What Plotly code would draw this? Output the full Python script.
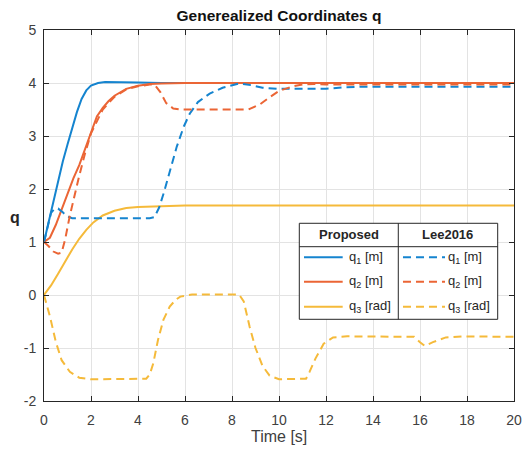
import plotly.graph_objects as go

# Proposed controller
t_q1p = [0, 0.2, 0.4, 0.6, 0.8, 1.0, 1.2, 1.4, 1.6, 1.8, 2.0, 2.3, 2.6, 3.0, 3.5, 4.0, 5.0, 6.0, 20]
q1p = [1.0, 1.38, 1.78, 2.16, 2.52, 2.84, 3.15, 3.45, 3.7, 3.86, 3.95, 4.0, 4.02, 4.02, 4.02, 4.01, 4.0, 4.0, 4.0]

t_q2p = [0, 0.25, 0.5, 0.75, 1.0, 1.25, 1.5, 1.75, 2.0, 2.25, 2.5, 2.75, 3.0, 3.5, 4.0, 4.5, 5.0, 6.0, 20]
q2p = [1.0, 1.08, 1.32, 1.62, 1.93, 2.2, 2.45, 2.75, 3.08, 3.37, 3.53, 3.66, 3.76, 3.89, 3.95, 3.98, 3.99, 4.0, 4.0]

t_q3p = [0, 0.3, 0.6, 0.9, 1.2, 1.5, 1.8, 2.1, 2.5, 3.0, 3.5, 4.0, 5.0, 6.0, 8.0, 20]
q3p = [0, 0.18, 0.4, 0.63, 0.86, 1.06, 1.23, 1.37, 1.5, 1.59, 1.64, 1.66, 1.68, 1.69, 1.69, 1.69]

# Lee2016
t_q1l = [0, 0.15, 0.3, 0.45, 0.6, 0.8, 1.0, 1.2, 4.5, 4.7, 4.9, 5.1, 5.35, 5.65, 5.95, 6.2, 6.55,
         7.05, 7.6, 8.3, 8.8, 9.3, 10.0, 12.0, 12.8, 13.5, 20]
q1l = [1.0, 1.3, 1.55, 1.63, 1.63, 1.56, 1.48, 1.45, 1.45, 1.47, 1.65, 1.93, 2.35, 2.8, 3.18, 3.42, 3.64,
       3.8, 3.91, 3.99, 3.96, 3.91, 3.89, 3.89, 3.92, 3.93, 3.93]

t_q2l = [0, 0.2, 0.4, 0.6, 0.75, 0.9, 1.1, 1.3, 1.5, 1.75, 2.0, 2.5, 3.0, 3.5, 4.0, 4.5, 4.7, 4.95,
         5.2, 5.5, 5.8, 8.7, 9.2, 9.6, 10.0, 10.6, 11.0, 11.5, 12, 20]
q2l = [1.0, 0.92, 0.82, 0.78, 0.8, 1.05, 1.5, 1.9, 2.25, 2.68, 3.05, 3.5, 3.74, 3.88, 3.94, 3.97, 3.97, 3.83,
       3.62, 3.52, 3.5, 3.5, 3.6, 3.73, 3.85, 3.94, 3.97, 3.98, 3.97, 3.97]

t_q3l = [0, 0.25, 0.5, 0.75, 1.1, 1.5, 2.0, 4.35, 4.5, 4.65, 4.85, 5.08, 5.35, 5.6, 5.8, 6.3, 8.3, 8.5,
         8.75, 9.0, 9.3, 9.6, 10.0, 11.15, 11.3, 11.55, 11.9, 12.3, 12.9, 15.75, 16.0, 16.2, 16.55,
         17.1, 17.8, 20]
q3l = [0, -0.4, -0.88, -1.23, -1.45, -1.56, -1.59, -1.58, -1.5, -1.29, -0.85, -0.47, -0.22, -0.09, -0.03,
       0.01, 0.01, -0.12, -0.6, -1.0, -1.34, -1.52, -1.59, -1.58, -1.45, -1.2, -0.92, -0.8, -0.78, -0.79,
       -0.89, -0.96, -0.89, -0.8, -0.78, -0.79]

x_ticks = [0, 2, 4, 6, 8, 10, 12, 14, 16, 18, 20]
y_ticks = [-2, -1, 0, 1, 2, 3, 4, 5]
y_ticktext = ["-2", "-1", "0", "1", "2", "3", "4", "5"]

labels = ["q<sub>1</sub> [m]", "q<sub>2</sub> [m]", "q<sub>3</sub> [rad]"]
colors = ["#1584CF", "#EB6535", "#F5BA3A"]
dash_style = "8px,5px"
font = "Liberation Sans, Arial, sans-serif"
txt = "#262626"

fig = go.Figure()
proposed = [(t_q1p, q1p), (t_q2p, q2p), (t_q3p, q3p)]
lee = [(t_q1l, q1l), (t_q2l, q2l), (t_q3l, q3l)]
for i in range(3):
    fig.add_trace(go.Scatter(x=proposed[i][0], y=proposed[i][1], mode="lines",
                             line=dict(color=colors[i], width=2), showlegend=False))
for i in range(3):
    fig.add_trace(go.Scatter(x=lee[i][0], y=lee[i][1], mode="lines",
                             line=dict(color=colors[i], width=2, dash=dash_style), showlegend=False))

axis_common = dict(showline=True, linecolor=txt, linewidth=1, mirror="ticks",
                   ticks="inside", ticklen=5, tickcolor=txt, showgrid=True,
                   gridcolor="#e3e3e3", gridwidth=1, zeroline=False, automargin=False,
                   ticklabeloverflow="allow",
                   tickfont=dict(family=font, size=14, color="#404040"))
fig.update_xaxes(range=[0, 20], tickvals=x_ticks, ticklabelstandoff=6, **axis_common)
fig.update_yaxes(range=[-2, 5], tickvals=y_ticks, ticktext=y_ticktext, ticklabelstandoff=4, **axis_common)

# table-style legend (Proposed | Lee2016)
x0, x1, xm = 0.5432, 0.9653, 0.7538
y0, y1, yh = 0.2202, 0.479, 0.4159
row_y = [0.3873, 0.3216, 0.2542]
shapes = [
    dict(type="rect", xref="paper", yref="paper", x0=x0, x1=x1, y0=y0, y1=y1,
         line=dict(color=txt, width=1), fillcolor="white"),
    dict(type="line", xref="paper", yref="paper", x0=xm, x1=xm, y0=y0, y1=y1,
         line=dict(color=txt, width=1)),
    dict(type="line", xref="paper", yref="paper", x0=x0, x1=x1, y0=yh, y1=yh,
         line=dict(color=txt, width=1)),
]
annotations = [
    dict(text="<b>Proposed</b>", x=(x0 + xm) / 2, y=0.4493),
    dict(text="<b>Lee2016</b>", x=(xm + x1) / 2, y=0.4493),
]
for i in range(3):
    shapes.append(dict(type="line", xref="paper", yref="paper", x0=0.5532, x1=0.6355,
                       y0=row_y[i], y1=row_y[i], line=dict(color=colors[i], width=2)))
    shapes.append(dict(type="line", xref="paper", yref="paper", x0=0.7638, x1=0.8532,
                       y0=row_y[i], y1=row_y[i], line=dict(color=colors[i], width=2, dash=dash_style)))
    annotations.append(dict(text=labels[i], x=0.6455, y=row_y[i], xanchor="left"))
    annotations.append(dict(text=labels[i], x=0.8553, y=row_y[i], xanchor="left"))
for a in annotations:
    a.update(font=dict(family=font, size=13, color=txt))

annotations.append(dict(text="<b>q</b>", x=-0.062, y=0.495,
                        font=dict(family=font, size=16, color=txt)))
annotations.append(dict(text="Time [s]", x=0.5, y=-0.097,
                        font=dict(family=font, size=16, color="#404040")))
for a in annotations:
    a.update(xref="paper", yref="paper", showarrow=False)
    a.setdefault("xanchor", "center")
    a.setdefault("yanchor", "middle")

fig.update_layout(
    width=523, height=449,
    margin=dict(l=44, r=9, t=30, b=48),
    paper_bgcolor="white", plot_bgcolor="white",
    title=dict(text="<b>Generealized Coordinates q</b>", x=0.5, xref="paper", y=0.966,
               yanchor="middle", font=dict(family=font, size=15.5, color="#111111")),
    shapes=shapes, annotations=annotations,
)

# drop the default 8px page margin so the figure fills the window exactly
fig.write_html("out.html", config={"displayModeBar": False},
               post_script="document.body.style.margin = '0';")
